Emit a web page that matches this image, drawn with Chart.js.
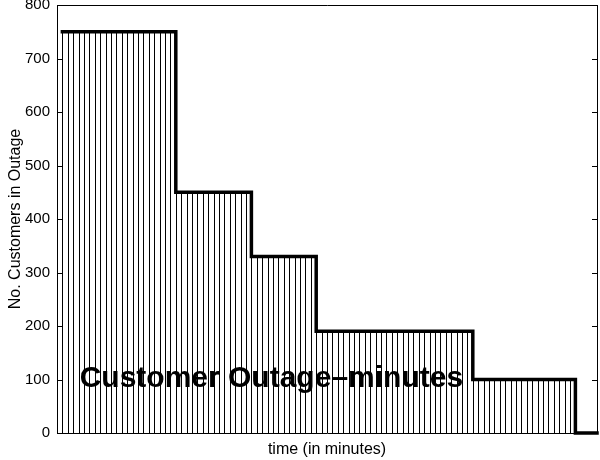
<!DOCTYPE html>
<html>
<head>
<meta charset="utf-8">
<script src="https://cdn.jsdelivr.net/npm/chart.js@4"></script>
<style>
  html, body { margin: 0; padding: 0; background: #fff; }
  #c { display: block; }
</style>
</head>
<body>
<canvas id="c" width="600" height="460"></canvas>
<script>
// ---- data ----
const times = [1, 22, 36, 48, 77, 96, 100];          // minutes (step change points)
const customers = [750, 450, 330, 190, 100, 0, 0];   // customers in outage
const yTickValues = [0, 100, 200, 300, 400, 500, 600, 700, 800];
const hatchTimes = [];                               // hatch line positions (every minute)
for (let t = 1; t <= 95; t++) hatchTimes.push(t);
const xTitle = 'time (in minutes)';
const yTitle = 'No. Customers in Outage';
const annotationText = 'Customer Outage\u2013minutes';
const annotationAt = { x: 39.7, y: 86 };

const FONT = "'Liberation Sans', Arial, Helvetica, sans-serif";

function stepValue(t) {
  for (let i = 0; i < times.length - 1; i++) {
    if (t >= times[i] && t <= times[i + 1]) return customers[i];
  }
  return 0;
}

const framePlugin = {
  id: 'frame',
  beforeDatasetsDraw(chart) {
    const { ctx, scales: { x, y } } = chart;
    ctx.save();
    ctx.strokeStyle = '#000';
    ctx.lineWidth = 1;
    ctx.beginPath();
    hatchTimes.forEach(t => {
      const px = Math.round(x.getPixelForValue(t)) + 0.5;
      ctx.moveTo(px, y.getPixelForValue(0));
      ctx.lineTo(px, y.getPixelForValue(stepValue(t)));
    });
    ctx.stroke();
    ctx.restore();
  },
  afterDatasetsDraw(chart) {
    const { ctx, chartArea: a, scales: { x, y } } = chart;
    ctx.save();
    ctx.fillStyle = '#000';
    ctx.font = 'bold 30px ' + FONT;
    ctx.textAlign = 'center';
    ctx.textBaseline = 'alphabetic';
    ctx.fillText(annotationText, x.getPixelForValue(annotationAt.x), y.getPixelForValue(annotationAt.y));
    // box: top and right edges
    ctx.strokeStyle = '#000';
    ctx.lineWidth = 1;
    ctx.beginPath();
    ctx.moveTo(a.left, Math.round(a.top) + 0.5);
    ctx.lineTo(a.right + 0.5, Math.round(a.top) + 0.5);
    ctx.moveTo(Math.round(a.right) + 0.5, a.top);
    ctx.lineTo(Math.round(a.right) + 0.5, a.bottom);
    // inward tick marks on left and right
    yTickValues.forEach(v => {
      const py = Math.round(y.getPixelForValue(v)) + 0.5;
      ctx.moveTo(a.left, py);
      ctx.lineTo(a.left + 5, py);
      ctx.moveTo(a.right, py);
      ctx.lineTo(a.right - 5, py);
    });
    ctx.stroke();
    ctx.restore();
  }
};

new Chart(document.getElementById('c'), {
  type: 'line',
  data: {
    datasets: [{
      data: times.map((t, i) => ({ x: t, y: customers[i] })),
      stepped: 'before',
      borderColor: '#000',
      borderWidth: 3.5,
      pointRadius: 0,
      fill: false,
      borderCapStyle: 'square',
      borderJoinStyle: 'miter',
      clip: 4
    }]
  },
  options: {
    responsive: false,
    animation: false,
    devicePixelRatio: 1,
    layout: { padding: { top: 5, right: 3, left: 0, bottom: 0 } },
    plugins: { legend: { display: false }, tooltip: { enabled: false } },
    scales: {
      x: {
        type: 'linear',
        min: 0,
        max: 100,
        grid: { display: false, drawTicks: false },
        border: { display: true, color: '#000', width: 1 },
        ticks: { display: false },
        title: { display: true, text: xTitle, color: '#000', font: { family: FONT, size: 16 }, padding: { top: 0, bottom: 1 } },
        afterFit(s) { s.height = 27; s.paddingLeft = 0; s.paddingRight = 0; }
      },
      y: {
        min: 0,
        max: 800,
        grid: { display: false, drawTicks: false },
        border: { display: true, color: '#000', width: 1 },
        afterBuildTicks(s) { s.ticks = yTickValues.map(v => ({ value: v })); },
        ticks: { color: '#000', font: { family: FONT, size: 15 }, padding: 7 },
        title: { display: true, text: yTitle, color: '#000', font: { family: FONT, size: 16 }, padding: { top: 6, bottom: 0 } },
        afterFit(s) { s.width = 57; s.paddingTop = 0; s.paddingBottom = 0; }
      }
    }
  },
  plugins: [framePlugin]
});
</script>
</body>
</html>
